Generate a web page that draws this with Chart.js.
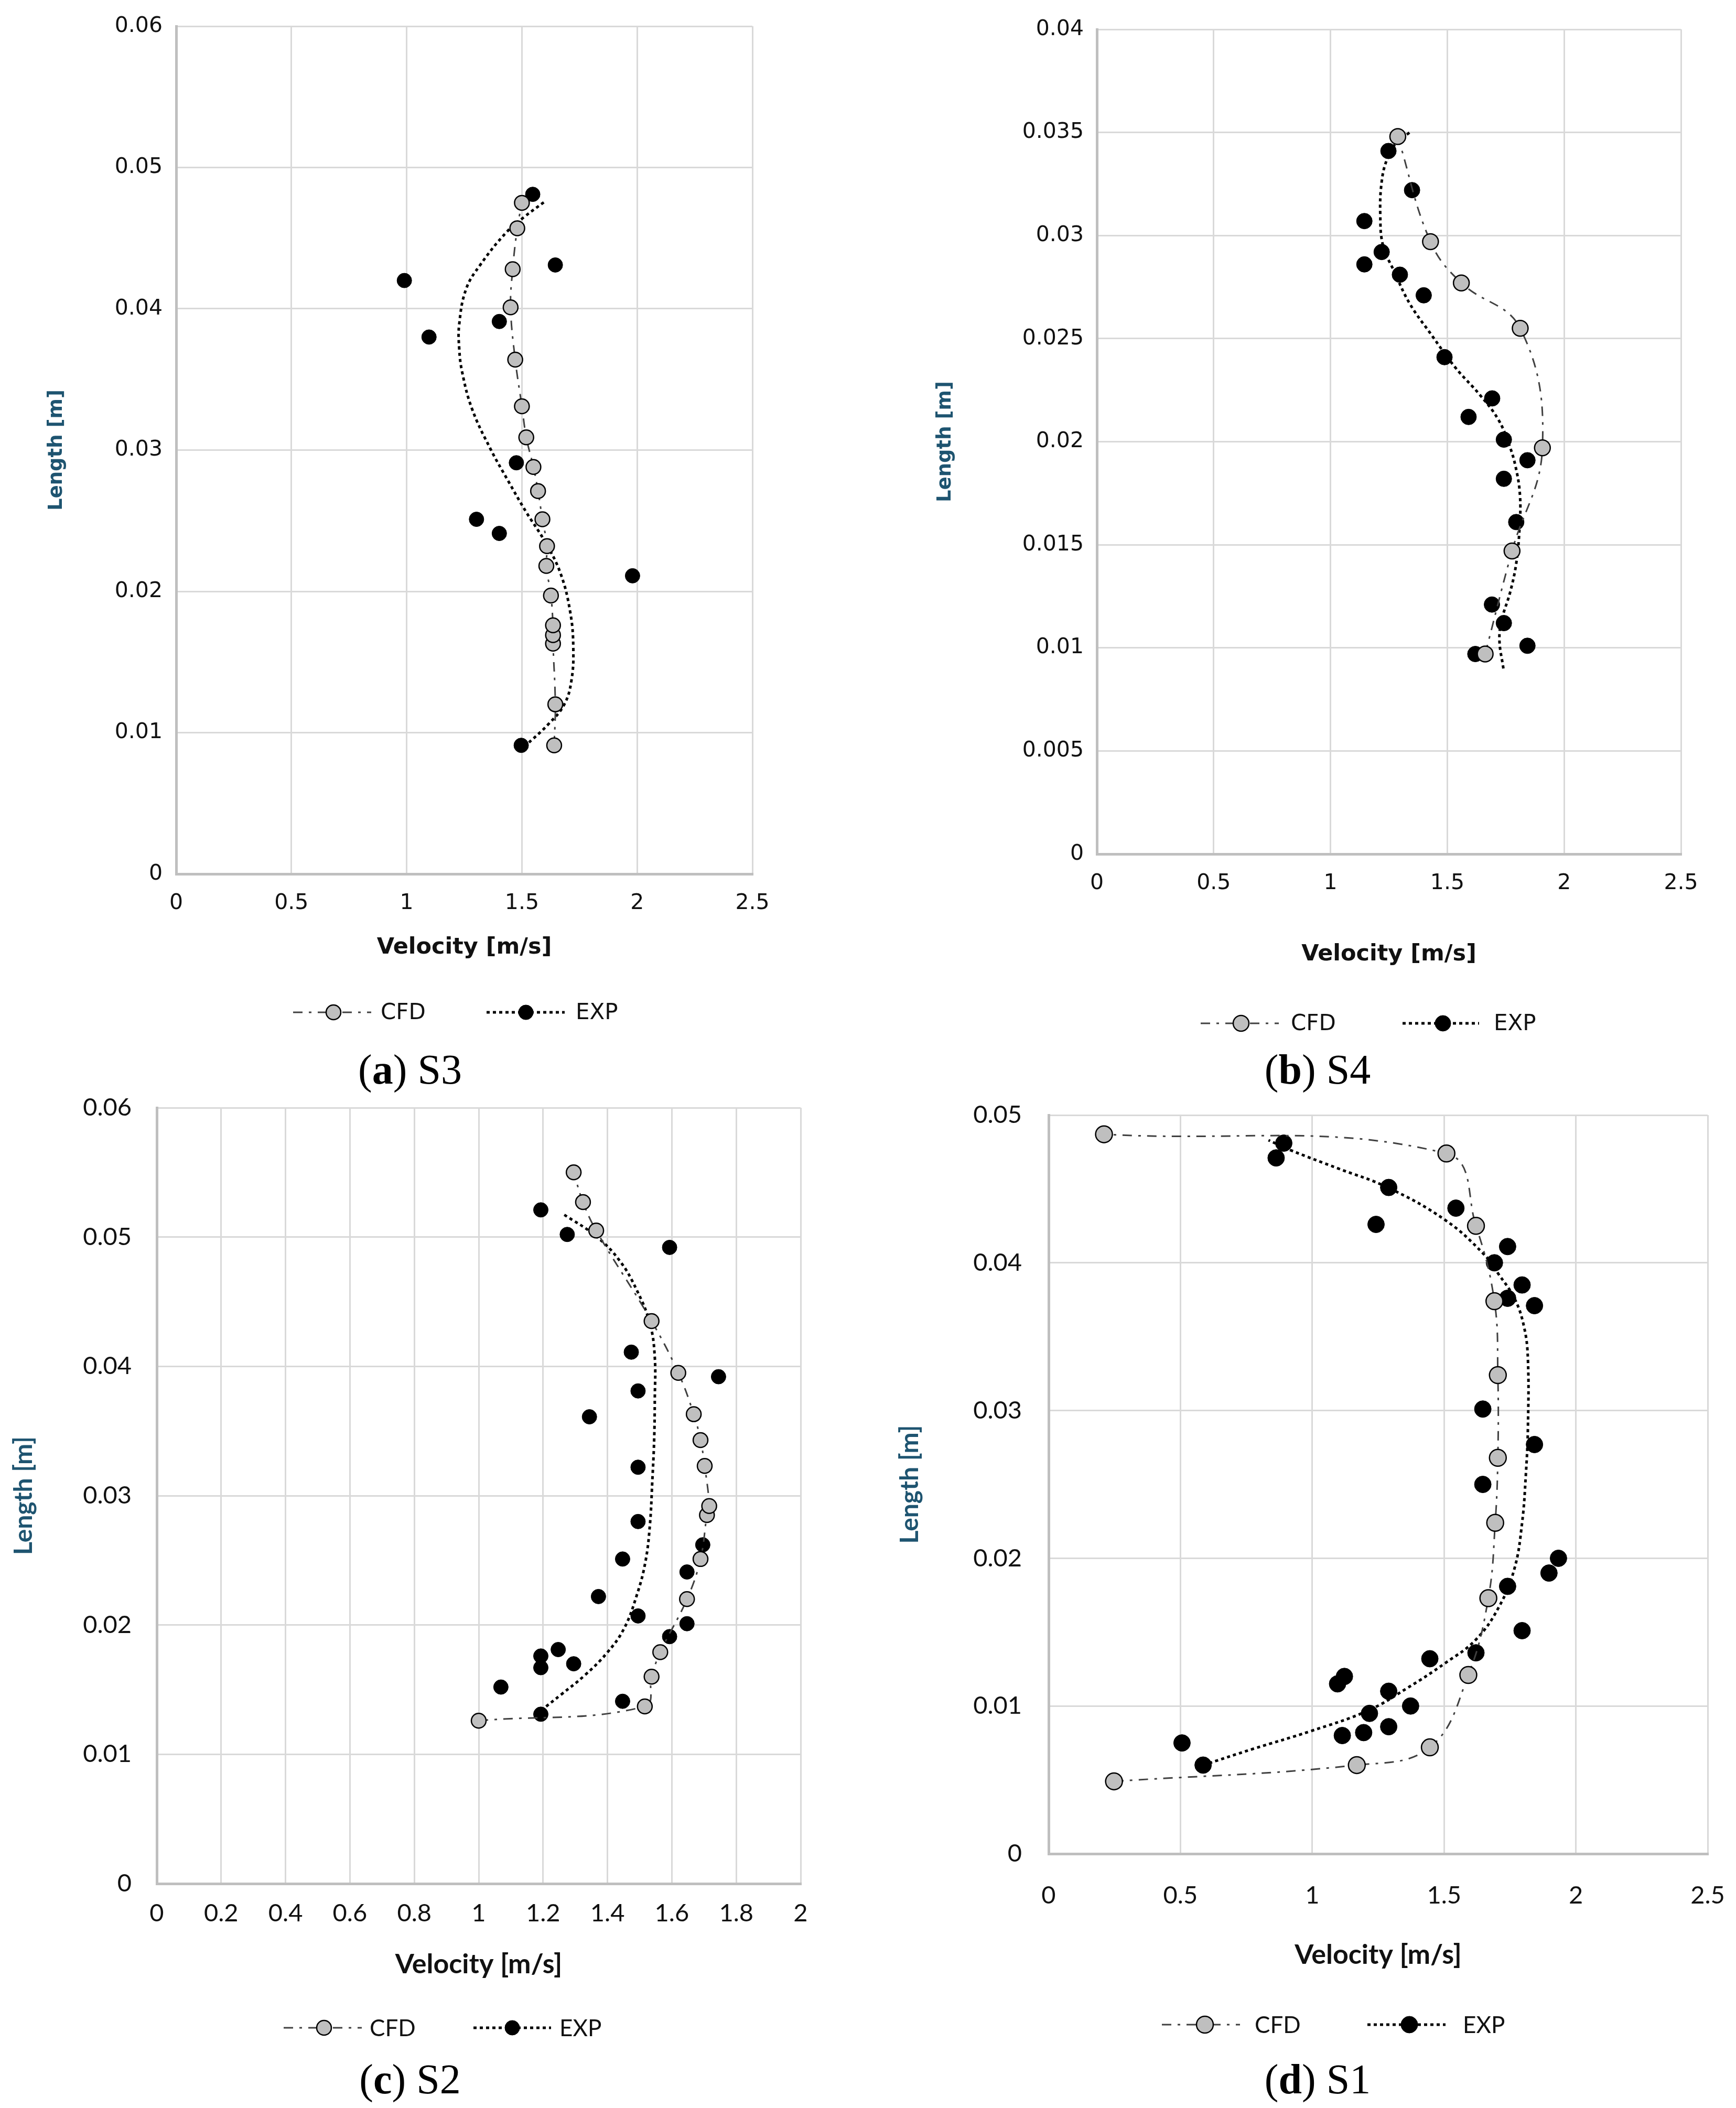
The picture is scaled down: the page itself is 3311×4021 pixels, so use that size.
<!DOCTYPE html>
<html>
<head>
<meta charset="utf-8">
<script src="https://cdn.jsdelivr.net/npm/chart.js@4.4.1/dist/chart.umd.min.js"></script>
<style>
  body { margin: 0; background: #fff; width: 3311px; height: 4021px; position: relative; overflow: hidden; }
  canvas { position: absolute; }
  .cap { position: absolute; font-family: 'Liberation Serif', serif; font-size: 80px; color: #000;
         transform: translate(-50%, -50%); white-space: nowrap; }
</style>
</head>
<body>
<canvas id="chartS3" width="1655" height="2000" style="left:0;top:0"></canvas>
<canvas id="chartS4" width="1656" height="2000" style="left:1655px;top:0"></canvas>
<canvas id="chartS2" width="1655" height="1880" style="left:0;top:2060px"></canvas>
<canvas id="chartS1" width="1656" height="1880" style="left:1655px;top:2060px"></canvas>
<div class="cap" style="left:782px;top:2040px">(<b>a</b>) S3</div>
<div class="cap" style="left:2513px;top:2040px">(<b>b</b>) S4</div>
<div class="cap" style="left:782px;top:3966px">(<b>c</b>) S2</div>
<div class="cap" style="left:2513px;top:3966px">(<b>d</b>) S1</div>
<script>
// ---- S3 (a) ----
const xTicksS3 = [0, 0.5, 1, 1.5, 2, 2.5];
const yTicksS3 = [0, 0.01, 0.02, 0.03, 0.04, 0.05, 0.06];
const cfdVelS3 = [1.64, 1.645, 1.635, 1.635, 1.635, 1.626, 1.606, 1.609, 1.589, 1.57, 1.55, 1.519, 1.5, 1.471, 1.451, 1.46, 1.48, 1.5];
const cfdLenS3 = [0.0091, 0.0120, 0.0163, 0.0169, 0.0176, 0.0197, 0.0218, 0.0232, 0.0251, 0.0271, 0.0288, 0.0309, 0.0331, 0.0364, 0.0401, 0.0428, 0.0457, 0.0475];
const expVelS3 = [1.497, 1.98, 1.402, 1.303, 1.476, 1.097, 1.402, 0.99, 1.645, 1.547];
const expLenS3 = [0.0091, 0.0211, 0.0241, 0.0251, 0.0291, 0.0380, 0.0391, 0.0420, 0.0431, 0.0481];
const trendVelS3 = [1.51, 1.615, 1.684, 1.715, 1.723, 1.710, 1.667, 1.597, 1.519, 1.441, 1.363, 1.284, 1.241, 1.228, 1.228, 1.258, 1.319, 1.432, 1.51, 1.60];
const trendLenS3 = [0.0090, 0.0106, 0.0120, 0.0137, 0.0160, 0.0185, 0.0213, 0.0236, 0.0256, 0.0278, 0.0301, 0.0329, 0.0355, 0.0372, 0.0389, 0.0414, 0.0431, 0.0454, 0.0465, 0.0476];

// ---- S4 (b) ----
const xTicksS4 = [0, 0.5, 1, 1.5, 2, 2.5];
const yTicksS4 = [0, 0.005, 0.01, 0.015, 0.02, 0.025, 0.03, 0.035, 0.04];
const cfdVelS4 = [1.662, 1.777, 1.907, 1.812, 1.560, 1.428, 1.288];
const cfdLenS4 = [0.0097, 0.0147, 0.0197, 0.0255, 0.0277, 0.0297, 0.0348];
const expVelS4 = [1.620, 1.843, 1.742, 1.691, 1.795, 1.742, 1.843, 1.742, 1.591, 1.692, 1.488, 1.399, 1.297, 1.145, 1.219, 1.145, 1.349, 1.248];
const expLenS4 = [0.0097, 0.0101, 0.0112, 0.0121, 0.0161, 0.0182, 0.0191, 0.0201, 0.0212, 0.0221, 0.0241, 0.0271, 0.0281, 0.0286, 0.0292, 0.0307, 0.0322, 0.0341];
const trendVelS4 = [1.740, 1.723, 1.734, 1.769, 1.795, 1.809, 1.811, 1.792, 1.763, 1.717, 1.637, 1.534, 1.431, 1.339, 1.271, 1.225, 1.213, 1.219, 1.242, 1.282, 1.339];
const trendLenS4 = [0.0090, 0.0104, 0.0114, 0.0127, 0.0141, 0.0158, 0.0174, 0.0188, 0.0199, 0.0211, 0.0223, 0.0236, 0.0252, 0.0267, 0.0283, 0.0295, 0.0310, 0.0326, 0.0337, 0.0345, 0.0350];

// ---- S2 (c) ----
const xTicksS2 = [0, 0.2, 0.4, 0.6, 0.8, 1, 1.2, 1.4, 1.6, 1.8, 2];
const yTicksS2 = [0, 0.01, 0.02, 0.03, 0.04, 0.05, 0.06];
const cfdVelS2 = [1.0, 1.516, 1.537, 1.564, 1.647, 1.689, 1.709, 1.716, 1.702, 1.689, 1.668, 1.620, 1.537, 1.365, 1.324, 1.295];
const cfdLenS2 = [0.0126, 0.0137, 0.0160, 0.0179, 0.0220, 0.0251, 0.0285, 0.0292, 0.0323, 0.0343, 0.0363, 0.0395, 0.0435, 0.0505, 0.0527, 0.0550];
const expVelS2 = [1.193, 1.447, 1.069, 1.193, 1.295, 1.193, 1.247, 1.593, 1.647, 1.495, 1.372, 1.647, 1.447, 1.696, 1.495, 1.495, 1.344, 1.495, 1.745, 1.474, 1.593, 1.275, 1.193];
const expLenS2 = [0.0131, 0.0141, 0.0152, 0.0167, 0.0170, 0.0176, 0.0181, 0.0191, 0.0201, 0.0207, 0.0222, 0.0241, 0.0251, 0.0262, 0.0280, 0.0322, 0.0361, 0.0381, 0.0392, 0.0411, 0.0492, 0.0502, 0.0521];
const trendVelS2 = [1.194, 1.255, 1.329, 1.397, 1.451, 1.491, 1.518, 1.532, 1.539, 1.545, 1.547, 1.547, 1.532, 1.491, 1.437, 1.363, 1.261];
const trendLenS2 = [0.0134, 0.0146, 0.0161, 0.0178, 0.0197, 0.0223, 0.0249, 0.0278, 0.0310, 0.0343, 0.0375, 0.0407, 0.0433, 0.0459, 0.0482, 0.0501, 0.0518];

// ---- S1 (d) ----
const xTicksS1 = [0, 0.5, 1, 1.5, 2, 2.5];
const yTicksS1 = [0, 0.01, 0.02, 0.03, 0.04, 0.05];
const cfdVelS1 = [0.248, 1.169, 1.446, 1.592, 1.668, 1.694, 1.704, 1.704, 1.691, 1.621, 1.509, 0.210];
const cfdLenS1 = [0.0049, 0.0060, 0.0072, 0.0121, 0.0173, 0.0224, 0.0268, 0.0324, 0.0374, 0.0425, 0.0474, 0.0487];
const expVelS1 = [0.586, 0.506, 1.114, 1.195, 1.290, 1.217, 1.373, 1.290, 1.096, 1.122, 1.446, 1.621, 1.796, 1.741, 1.898, 1.934, 1.647, 1.843, 1.647, 1.843, 1.741, 1.796, 1.691, 1.741, 1.242, 1.545, 1.290, 0.863, 0.892];
const expLenS1 = [0.0060, 0.0075, 0.0080, 0.0082, 0.0086, 0.0095, 0.0100, 0.0110, 0.0115, 0.0120, 0.0132, 0.0136, 0.0151, 0.0181, 0.0190, 0.0200, 0.0250, 0.0277, 0.0301, 0.0371, 0.0376, 0.0385, 0.0400, 0.0411, 0.0426, 0.0437, 0.0451, 0.0471, 0.0481];
const trendVelS1 = [0.586, 0.776, 0.994, 1.213, 1.359, 1.504, 1.621, 1.708, 1.767, 1.796, 1.810, 1.818, 1.818, 1.803, 1.767, 1.708, 1.650, 1.504, 1.286, 1.096, 0.921, 0.834];
const trendLenS1 = [0.0060, 0.0071, 0.0083, 0.0097, 0.0112, 0.0129, 0.0145, 0.0167, 0.0193, 0.0224, 0.0256, 0.0288, 0.0335, 0.0357, 0.0376, 0.0392, 0.0406, 0.0429, 0.0451, 0.0464, 0.0476, 0.0483];

const pts = (xs, ys) => xs.map((x, i) => ({ x: x, y: ys[i] }));

// draws the Excel-style legend (line sample + marker + label) below the axis title
const sampleLegend = {
    id: 'sampleLegend',
    afterDraw(chart, args, o) {
        const ctx = chart.ctx;
        const dsets = chart.data.datasets;
        o.items.forEach(it => {
            const line = dsets[it.lineFrom];
            const mark = dsets[it.markFrom];
            const y = o.y - o.top;
            ctx.save();
            ctx.strokeStyle = line.borderColor;
            ctx.lineWidth = line.borderWidth;
            ctx.setLineDash(line.borderDash);
            ctx.beginPath();
            ctx.moveTo(it.x0 - o.left, y);
            ctx.lineTo(it.x1 - o.left, y);
            ctx.stroke();
            ctx.setLineDash([]);
            ctx.beginPath();
            ctx.arc(it.xm - o.left, y, mark.pointRadius, 0, Math.PI * 2);
            ctx.fillStyle = mark.pointBackgroundColor;
            ctx.fill();
            ctx.lineWidth = mark.pointBorderWidth;
            ctx.strokeStyle = mark.pointBorderColor;
            ctx.stroke();
            ctx.fillStyle = '#111';
            ctx.font = o.font;
            ctx.textBaseline = 'middle';
            ctx.fillText(mark.label, it.xt - o.left, y + 2);
            ctx.restore();
        });
    }
};

function makePanel(id, d, L) {
    const yTitleLH = L.yTitleSize * 1.2;
    const xTitleLH = L.xTitleSize * 1.2;
    const padLeft = L.yTitleX - L.left - yTitleLH / 2;
    const yWidth = L.x0 - L.left - padLeft;
    const xBottom = L.xTitleY + xTitleLH / 2;
    const xHeight = xBottom - L.ybot;
    const tickFont = { family: L.family, size: L.tickSize };

    new Chart(document.getElementById(id), {
        type: 'scatter',
        data: {
            datasets: [{
                label: 'CFD',
                data: pts(d.cfdVel, d.cfdLen),
                showLine: true,
                borderColor: '#404040',
                borderWidth: 3,
                borderDash: [18, 12, 5, 12],
                tension: 0.4,
                pointRadius: L.r,
                pointBackgroundColor: '#bfbfbf',
                pointBorderColor: '#000',
                pointBorderWidth: 2.5
            }, {
                label: 'EXP trend',
                data: pts(d.trendVel, d.trendLen),
                showLine: true,
                borderColor: '#000',
                borderWidth: 5,
                borderDash: [6, 6],
                tension: 0.4,
                pointRadius: 0
            }, {
                label: 'EXP',
                data: pts(d.expVel, d.expLen),
                showLine: false,
                pointRadius: L.r,
                pointBackgroundColor: '#000',
                pointBorderColor: '#000',
                pointBorderWidth: 1
            }]
        },
        options: {
            responsive: false,
            animation: false,
            devicePixelRatio: 1,
            layout: {
                padding: {
                    left: padLeft,
                    top: L.ytop - L.top,
                    right: L.left + L.w - L.x1,
                    bottom: L.top + L.h - xBottom
                }
            },
            scales: {
                x: {
                    type: 'linear',
                    min: d.xTicks[0],
                    max: d.xTicks[d.xTicks.length - 1],
                    afterBuildTicks: s => { s.ticks = d.xTicks.map(v => ({ value: v })); },
                    // keep the plot box where the reference has it
                    afterFit: s => { s.height = xHeight; s.paddingLeft = 0; s.paddingRight = 0; },
                    ticks: { font: tickFont, color: '#111', padding: L.xTickPad, maxRotation: 0, callback: v => String(v) },
                    grid: { color: '#d9d9d9', lineWidth: 3, drawTicks: false },
                    border: { color: '#bfbfbf', width: 5 },
                    title: { display: true, text: 'Velocity [m/s]', color: '#111', padding: 0,
                             font: { family: L.family, size: L.xTitleSize, weight: 'bold' } }
                },
                y: {
                    type: 'linear',
                    min: d.yTicks[0],
                    max: d.yTicks[d.yTicks.length - 1],
                    afterBuildTicks: s => { s.ticks = d.yTicks.map(v => ({ value: v })); },
                    afterFit: s => { s.width = yWidth; s.paddingTop = 0; s.paddingBottom = 0; },
                    ticks: { font: tickFont, color: '#111', padding: L.yTickPad, callback: v => String(v) },
                    grid: { color: '#d9d9d9', lineWidth: 3, drawTicks: false },
                    border: { color: '#bfbfbf', width: 5 },
                    title: { display: true, text: 'Length [m]', color: '#1e5470', padding: 0,
                             font: { family: L.family, size: L.yTitleSize, weight: 'bold' } }
                }
            },
            plugins: {
                legend: { display: false },
                tooltip: { enabled: false },
                sampleLegend: {
                    left: L.left, top: L.top, y: L.legendY,
                    font: L.legendSize + 'px ' + L.family,
                    items: [
                        { lineFrom: 0, markFrom: 0, x0: L.cfd[0], x1: L.cfd[1], xm: L.cfd[2], xt: L.cfd[3] },
                        { lineFrom: 1, markFrom: 2, x0: L.exp[0], x1: L.exp[1], xm: L.exp[2], xt: L.exp[3] }
                    ]
                }
            }
        },
        plugins: [sampleLegend]
    });
}

makePanel('chartS3',
    { xTicks: xTicksS3, yTicks: yTicksS3, cfdVel: cfdVelS3, cfdLen: cfdLenS3, expVel: expVelS3, expLen: expLenS3, trendVel: trendVelS3, trendLen: trendLenS3 },
    { left: 0, top: 0, w: 1655, h: 2000, x0: 336, x1: 1435, ytop: 50, ybot: 1667,
      family: 'DejaVu Sans', tickSize: 41, xTitleSize: 43, yTitleSize: 37, legendSize: 42,
      yTitleX: 108, xTitleY: 1808, yTickPad: 26, xTickPad: 32, r: 14,
      legendY: 1931, cfd: [559, 708, 636, 726], exp: [928, 1077, 1003, 1098] });

makePanel('chartS4',
    { xTicks: xTicksS4, yTicks: yTicksS4, cfdVel: cfdVelS4, cfdLen: cfdLenS4, expVel: expVelS4, expLen: expLenS4, trendVel: trendVelS4, trendLen: trendLenS4 },
    { left: 1655, top: 0, w: 1656, h: 2000, x0: 2092, x1: 3206, ytop: 56, ybot: 1629,
      family: 'DejaVu Sans', tickSize: 41, xTitleSize: 43, yTitleSize: 37, legendSize: 42,
      yTitleX: 1803, xTitleY: 1821, yTickPad: 25, xTickPad: 32, r: 15,
      legendY: 1952, cfd: [2290, 2439, 2367, 2462], exp: [2675, 2821, 2752, 2849] });

makePanel('chartS2',
    { xTicks: xTicksS2, yTicks: yTicksS2, cfdVel: cfdVelS2, cfdLen: cfdLenS2, expVel: expVelS2, expLen: expLenS2, trendVel: trendVelS2, trendLen: trendLenS2 },
    { left: 0, top: 2060, w: 1655, h: 1880, x0: 299, x1: 1527, ytop: 2113, ybot: 3593,
      family: 'Lato', tickSize: 47, xTitleSize: 52, yTitleSize: 48, legendSize: 44,
      yTitleX: 46, xTitleY: 3747, yTickPad: 48, xTickPad: 29, r: 14,
      legendY: 3868, cfd: [541, 690, 618, 705], exp: [903, 1051, 977, 1067] });

makePanel('chartS1',
    { xTicks: xTicksS1, yTicks: yTicksS1, cfdVel: cfdVelS1, cfdLen: cfdLenS1, expVel: expVelS1, expLen: expLenS1, trendVel: trendVelS1, trendLen: trendLenS1 },
    { left: 1655, top: 2060, w: 1656, h: 1880, x0: 2000, x1: 3257, ytop: 2127, ybot: 3536,
      family: 'Lato', tickSize: 47, xTitleSize: 52, yTitleSize: 48, legendSize: 44,
      yTitleX: 1736, xTitleY: 3729, yTickPad: 51, xTickPad: 52, r: 16,
      legendY: 3862, cfd: [2216, 2365, 2298, 2393], exp: [2608, 2757, 2688, 2790] });
</script>
</body>
</html>
